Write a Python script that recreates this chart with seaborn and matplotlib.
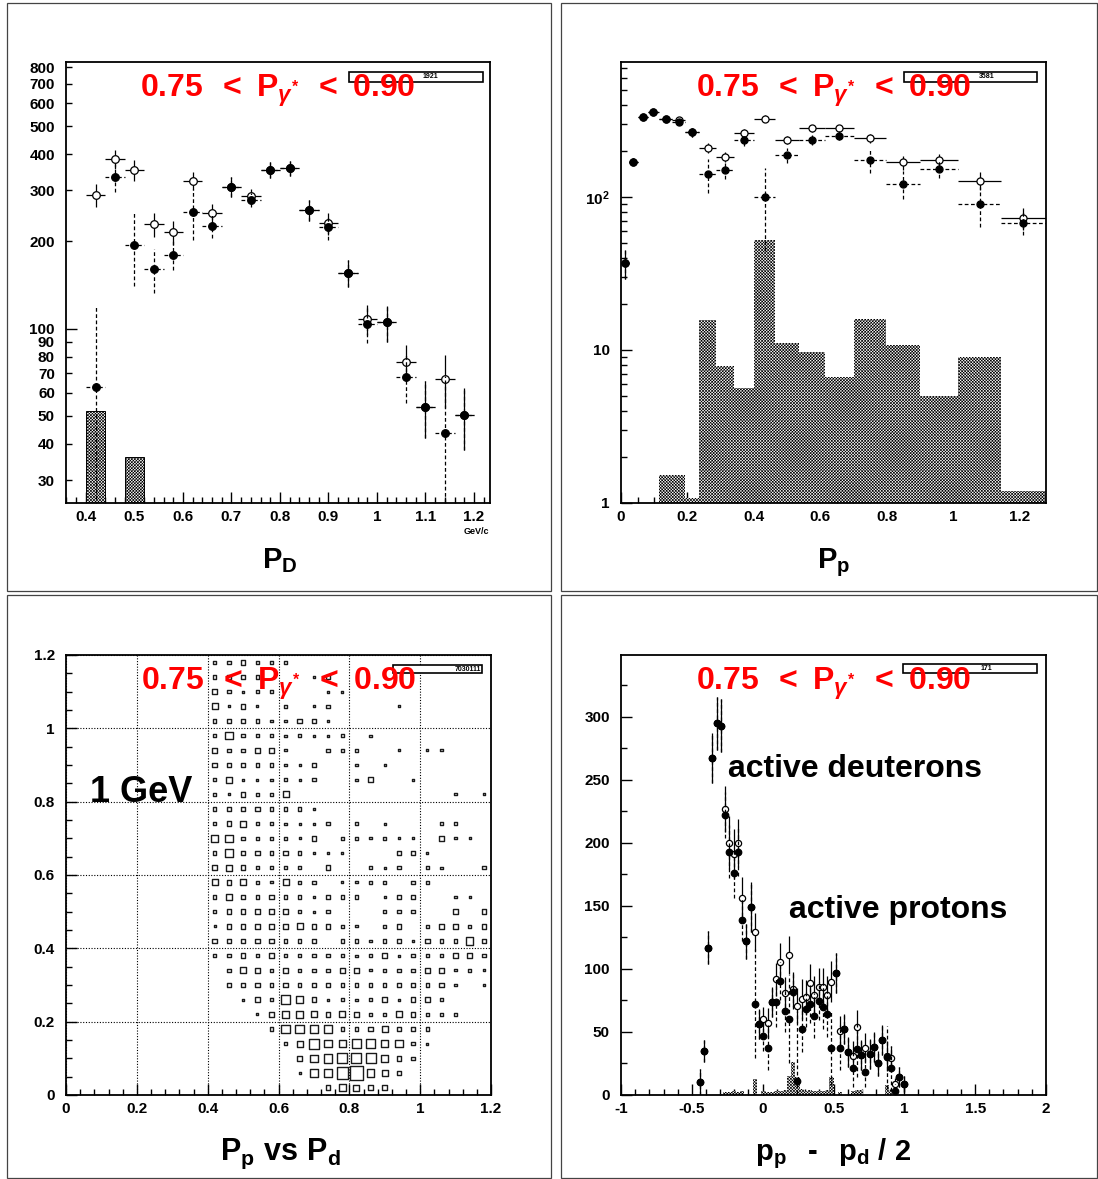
import numpy as np
import pandas as pd
import matplotlib
matplotlib.use("Agg")
import matplotlib.pyplot as plt
import seaborn as sns
from matplotlib.patches import Rectangle

# ---------------- P_D spectrum (top left) ----------------
pd_centers = [0.42, 0.46, 0.50, 0.54, 0.58, 0.62, 0.66, 0.70, 0.74, 0.78,
              0.82, 0.86, 0.90, 0.94, 0.98, 1.02, 1.06, 1.10, 1.14, 1.18]
pd_open = [290, 384, 353, 229, 215, 324, 250, 309, 288, 354,
           358, 256, 231, 156, 108, 105, 76.8, 53.8, 67.1, 50.2]
pd_open_err = [26, 29, 30, 21, 20, 23, 19, 24, 16, 22,
               22, 21, 20, 17, 13, 15, 11, 12, 14, 12]
pd_filled = [63, 334, 195, 161, 180, 253, 227, 309, 279, 354,
             358, 256, 225, 156, 104, 105, 68.3, 53.8, 43.6, 50.2]
pd_filled_err = [58, 37, 55, 28, 20, 50, 22, 24, 16, 22,
                 22, 21, 22, 17, 15, 15, 13, 12, 25, 12]
pd_background = [52, 0, 36, 0, 0, 0, 0, 0, 0, 0,
                 0, 0, 0, 0, 0, 0, 0, 0, 0, 0]

# ---------------- P_p spectrum (top right), variable bins ----------------
pp_edges = [0, 0.024, 0.05, 0.08, 0.114, 0.155, 0.193, 0.236, 0.286, 0.34,
            0.40, 0.465, 0.537, 0.614, 0.702, 0.797, 0.902, 1.016, 1.144, 1.28]
pp_filled = [37.2, 170, 335, 361, 324, 311, 265, 141, 149, 236,
             99.5, 188, 237, 252, 175, 122, 152, 89.6, 68]
pp_filled_err = [8, 9, 10, 10, 10, 10, 17, 35, 17, 20,
                 55, 22, 20, 18, 32, 25, 19, 26, 12]
pp_open = [37.2, 170, 335, 361, 324, 318, 265, 209, 183, 262,
           324, 236, 281, 281, 242, 168, 175, 128, 73]
pp_open_err = [8, 9, 10, 10, 10, 10, 17, 16, 14, 14,
               17, 14, 15, 15, 16, 18, 16, 17, 12]
pp_background = [0, 0, 0, 0, 1.52, 1.52, 1.08, 15.7, 7.86, 5.67,
                 52.4, 11.1, 9.77, 6.63, 15.9, 10.8, 5.03, 9.05, 1.2]

# ---------------- P_p vs P_d box plot (bottom left) ----------------
box_pd = pd_centers
box_pp = [1.18, 1.14, 1.10, 1.06, 1.02, 0.98, 0.94, 0.90, 0.86, 0.82,
          0.78, 0.74, 0.70, 0.66, 0.62, 0.58, 0.54, 0.50, 0.46, 0.42,
          0.38, 0.34, 0.30, 0.26, 0.22, 0.18, 0.14, 0.10, 0.06, 0.02]
box_counts = [
    [2, 2, 3, 2, 2, 2, 0, 0, 0, 0, 0, 0, 0, 0, 0, 0, 0, 0, 0, 0],
    [2, 2, 3, 2, 0, 0, 0, 1, 2, 0, 0, 0, 0, 0, 0, 0, 0, 0, 0, 0],
    [3, 2, 1, 2, 2, 0, 0, 0, 1, 1, 0, 0, 0, 0, 0, 0, 0, 0, 0, 0],
    [4, 1, 3, 1, 0, 2, 0, 1, 2, 0, 0, 0, 0, 1, 0, 0, 0, 0, 0, 0],
    [2, 3, 2, 2, 1, 1, 3, 2, 1, 0, 0, 0, 0, 0, 0, 0, 0, 0, 0, 0],
    [2, 5, 2, 2, 2, 1, 2, 1, 1, 2, 0, 1, 0, 0, 0, 0, 0, 0, 0, 0],
    [3, 2, 2, 3, 3, 1, 0, 0, 2, 2, 2, 0, 0, 1, 0, 1, 1, 0, 0, 0],
    [3, 2, 2, 2, 2, 1, 1, 2, 0, 0, 1, 0, 1, 0, 0, 0, 0, 0, 0, 0],
    [2, 4, 1, 1, 1, 2, 1, 2, 0, 0, 1, 3, 0, 0, 1, 0, 0, 0, 0, 0],
    [2, 1, 3, 2, 2, 4, 0, 0, 0, 0, 0, 0, 0, 0, 0, 0, 0, 1, 0, 1],
    [2, 2, 3, 3, 2, 2, 2, 1, 0, 0, 0, 0, 0, 0, 0, 0, 0, 0, 0, 0],
    [2, 3, 4, 2, 2, 1, 1, 1, 2, 0, 2, 0, 1, 0, 0, 0, 2, 2, 0, 0],
    [5, 5, 2, 2, 2, 2, 1, 3, 0, 2, 2, 1, 2, 1, 1, 0, 3, 1, 1, 0],
    [2, 5, 3, 3, 2, 3, 2, 1, 1, 1, 0, 0, 0, 2, 2, 1, 0, 0, 0, 0],
    [3, 4, 3, 2, 2, 2, 2, 0, 3, 0, 0, 2, 1, 2, 0, 2, 1, 0, 0, 2],
    [4, 3, 4, 2, 1, 4, 2, 2, 0, 1, 1, 2, 2, 0, 2, 2, 0, 0, 0, 0],
    [2, 4, 3, 2, 3, 2, 2, 1, 2, 2, 2, 0, 1, 2, 2, 0, 0, 1, 1, 0],
    [2, 3, 3, 3, 3, 3, 2, 1, 2, 0, 0, 0, 2, 2, 2, 0, 0, 3, 0, 3],
    [1, 3, 3, 3, 3, 3, 4, 3, 3, 2, 1, 0, 2, 3, 0, 2, 3, 3, 2, 3],
    [3, 3, 3, 3, 3, 2, 2, 2, 0, 2, 2, 1, 2, 2, 1, 3, 2, 2, 5, 2],
    [2, 2, 3, 2, 3, 2, 2, 2, 2, 2, 1, 2, 3, 1, 2, 2, 2, 3, 3, 2],
    [0, 2, 4, 3, 2, 3, 2, 2, 2, 3, 3, 1, 2, 2, 2, 3, 3, 1, 2, 1],
    [0, 2, 3, 3, 2, 3, 2, 2, 2, 2, 2, 2, 2, 2, 2, 2, 3, 1, 0, 1],
    [0, 0, 1, 3, 2, 6, 5, 3, 1, 2, 1, 2, 3, 1, 3, 3, 2, 0, 0, 0],
    [0, 0, 0, 1, 3, 5, 5, 4, 3, 4, 3, 2, 2, 4, 3, 2, 2, 2, 0, 0],
    [0, 0, 0, 0, 2, 6, 6, 6, 5, 2, 2, 3, 4, 3, 3, 2, 0, 0, 0, 0],
    [0, 0, 0, 0, 0, 2, 4, 7, 5, 5, 6, 6, 5, 5, 2, 1, 0, 0, 0, 0],
    [0, 0, 0, 0, 0, 0, 3, 5, 6, 7, 7, 7, 5, 3, 2, 0, 0, 0, 0, 0],
    [0, 0, 0, 0, 0, 0, 1, 5, 6, 8, 10, 5, 4, 3, 0, 0, 0, 0, 0, 0],
    [0, 0, 0, 0, 0, 0, 0, 0, 3, 5, 4, 3, 3, 0, 0, 0, 0, 0, 0, 0],
]

# ---------------- p_p - p_d/2 (bottom right) ----------------
br_x = [-0.445, -0.415, -0.385, -0.355, -0.325, -0.295, -0.265, -0.235, -0.205, -0.175,
        -0.145, -0.115, -0.085, -0.055, -0.025, 0.005, 0.035, 0.065, 0.095, 0.125,
        0.155, 0.185, 0.215, 0.245, 0.275, 0.305, 0.335, 0.365, 0.395, 0.425,
        0.455, 0.485, 0.515, 0.545, 0.575, 0.605, 0.635, 0.665, 0.695, 0.725,
        0.755, 0.785, 0.815, 0.845, 0.875, 0.905, 0.935, 0.965, 0.995]
br_filled = [10.3, 34.9, 116.7, 267.5, 295, 293, 222, 193, 176, 193,
             139, 122, 149, 72.5, 56.3, 47, 37.6, 73.8, 73.8, 90.7,
             66.9, 60.3, 82, 11.4, 52.4, 68, 72.2, 63, 74.6, 70.1,
             64.3, 37.6, 96.6, 37.6, 52.4, 33.9, 21.7, 36.5, 31.5, 18.5,
             32.5, 38.1, 25.1, 43.9, 30, 21.2, 3.4, 14.5, 8.7]
br_filled_err = [10, 9, 13, 20, 21, 21, 18, 21, 20, 19,
                 17, 14, 20, 43, 12, 12, 18, 12, 20, 15,
                 17, 35, 14, 55, 18, 14, 15, 18, 15, 18,
                 18, 30, 16, 18, 12, 12, 15, 22, 12, 12,
                 12, 12, 10, 12, 25, 18, 5, 8, 6]
br_open = [10.3, 34.9, 116.7, 267.5, 295, 293, 226.7, 200, 191, 200,
           156, 122, 149, 129, 56.3, 60, 56.9, 73.8, 91.8, 105.8,
           80.7, 111, 83.9, 70.9, 75.9, 77.5, 88.6, 79.4, 86, 86,
           79.4, 90, 96.6, 51, 52.4, 33.9, 31, 54.2, 31.5, 37,
           32.5, 38.1, 25.1, 43.9, 31, 29.1, 8.7, 14.5, 8.7]
br_open_err = [10, 9, 13, 20, 21, 21, 18, 21, 20, 19,
               17, 14, 20, 15, 12, 10, 12, 12, 13, 15,
               13, 15, 14, 14, 16, 14, 15, 15, 15, 15,
               15, 16, 16, 12, 12, 12, 12, 13, 12, 12,
               12, 12, 10, 12, 12, 10, 5, 8, 6]
br_background = [0, 0, 0, 0, 0, 1, 2, 2, 3, 2,
                 3, 0, 0, 13, 0, 3, 2, 2, 3, 3,
                 4, 15, 26, 14, 5, 3, 4, 3, 3, 3,
                 4, 14, 0, 2, 0, 0, 3, 4, 4, 0,
                 0, 0, 0, 0, 8, 3, 0, 0, 0]

title_text = r'$\mathbf{0.75}\ \,<\ \mathbf{P}_{\gamma^{*}}\ \,<\ \mathbf{0.90}$'

# ---------------- style ----------------
sns.set_style("ticks")
plt.rcParams.update({
    "font.family": ["Liberation Sans", "DejaVu Sans"],
    "font.weight": "bold",
    "mathtext.fontset": "custom",
    "mathtext.rm": "Liberation Sans",
    "mathtext.bf": "Liberation Sans:bold",
    "mathtext.it": "Liberation Sans:italic",
    "mathtext.sf": "Liberation Sans",
    "hatch.color": "black",
    "hatch.linewidth": 0.45,
    "axes.linewidth": 1.3,
    "text.color": "black",
    "axes.labelcolor": "black",
    "xtick.color": "black",
    "ytick.color": "black",
    "axes.edgecolor": "black",
})

W, H = 1098, 1179
fig = plt.figure(figsize=(W / 100, H / 100), dpi=100)
fig.patch.set_facecolor("white")


def px_box(x0, y0, x1, y1):
    return [x0 / W, 1 - y1 / H, (x1 - x0) / W, (y1 - y0) / H]


axTL = fig.add_axes(px_box(66, 62, 490, 503))
axTR = fig.add_axes(px_box(621, 62, 1046, 503))
axBL = fig.add_axes(px_box(66, 655, 491, 1095))
axBR = fig.add_axes(px_box(621, 655, 1046, 1095))

# pad frames
for (x0, y0, x1, y1) in [(7, 3, 551, 591), (561, 3, 1097, 591),
                         (7, 595, 551, 1178), (561, 595, 1097, 1178)]:
    fig.add_artist(Rectangle((x0 / W, 1 - y1 / H), (x1 - x0) / W, (y1 - y0) / H,
                             transform=fig.transFigure, fill=False,
                             ec="#444444", lw=0.9))

HATCH = "x" * 11


def hatched_hist(ax, centers, weights, edges, outline):
    n_before = len(ax.patches)
    sns.histplot(x=centers, weights=weights, bins=edges, ax=ax, stat="count",
                 element="bars", fill=True, color="white", edgecolor="black",
                 linewidth=0.7, alpha=1, zorder=1)
    for p in ax.patches[n_before:]:
        p.set_hatch(HATCH)
        p.set_facecolor("white")
        p.set_edgecolor("black")
        p.set_linewidth(0.7 if outline else 0.0)


def error_bars(ax, x, y, yerr, xerr, dashed, z):
    eb = ax.errorbar(x, y, yerr=yerr, xerr=xerr, fmt="none", ecolor="black",
                     elinewidth=0.9, capsize=0, zorder=z)
    if dashed:
        for lc in eb[2]:
            lc.set_linestyle((0, (3, 2)))


def markers(ax, x, y, filled, s, z):
    sns.scatterplot(x=x, y=y, ax=ax, marker="o", s=s,
                    color="black" if filled else "white",
                    edgecolor="black", linewidth=0.9, zorder=z, legend=False)


def style_axes(ax):
    ax.set_xlabel("")
    ax.set_ylabel("")
    for sp in ax.spines.values():
        sp.set_visible(True)
        sp.set_linewidth(1.3)
        sp.set_color("black")
    ax.tick_params(which="both", direction="in", top=False, right=False,
                   labelsize=11, width=1.0, color="black", labelcolor="black")
    ax.tick_params(which="major", length=8)
    ax.tick_params(which="minor", length=4)
    ax.tick_params(axis="x", which="both", pad=5)
    ax.tick_params(axis="y", which="both", pad=8)


def add_title(ax):
    ax.text(0.5, 0.921, title_text, transform=ax.transAxes, ha="center",
            va="baseline", color="red", fontsize=23, zorder=10)


def stat_box(ax, x0, x1, y0, y1, label, tx):
    ax.add_patch(Rectangle((x0, y0), x1 - x0, y1 - y0, transform=ax.transAxes,
                           fill=True, fc="white", ec="black", lw=1.2, zorder=8))
    ax.text(tx, (y0 + y1) / 2, label, transform=ax.transAxes, fontsize=5,
            ha="center", va="center", zorder=9)


# ---------------- top left ----------------
ax = axTL
pd_edges = [c - 0.02 for c in pd_centers] + [pd_centers[-1] + 0.02]
hatched_hist(ax, pd_centers, pd_background, pd_edges, True)
ax.set_yscale("log", nonpositive="clip")
error_bars(ax, pd_centers, pd_open, pd_open_err, 0.02, False, 2)
markers(ax, pd_centers, pd_open, False, 30, 3)
error_bars(ax, pd_centers, pd_filled, pd_filled_err, 0.02, True, 4)
markers(ax, pd_centers, pd_filled, True, 30, 5)
ax.set_xlim(0.359, 1.233)
ax.set_ylim(25, 833)
style_axes(ax)
ax.set_xticks([0.4, 0.5, 0.6, 0.7, 0.8, 0.9, 1.0, 1.1, 1.2],
              labels=["0.4", "0.5", "0.6", "0.7", "0.8", "0.9", "1", "1.1", "1.2"])
ax.set_xticks(np.arange(0.36, 1.233, 0.02), minor=True)
ax.set_yticks([100], labels=["100"])
yl = [30, 40, 50, 60, 70, 80, 90, 200, 300, 400, 500, 600, 700, 800]
ax.set_yticks(yl, labels=[str(v) for v in yl], minor=True)
ax.tick_params(axis="y", which="minor", length=4, labelsize=11, pad=8)
add_title(ax)
stat_box(ax, 0.667, 0.983, 0.955, 0.977, "1921", 0.86)

# ---------------- top right ----------------
ax = axTR
pp_centers = [(a + b) / 2 for a, b in zip(pp_edges[:-1], pp_edges[1:])]
pp_half = [(b - a) / 2 for a, b in zip(pp_edges[:-1], pp_edges[1:])]
hatched_hist(ax, pp_centers, pp_background, pp_edges, False)
ax.set_yscale("log", nonpositive="clip")
error_bars(ax, pp_centers, pp_open, pp_open_err, pp_half, False, 2)
markers(ax, pp_centers, pp_open, False, 26, 3)
error_bars(ax, pp_centers, pp_filled, pp_filled_err, pp_half, True, 4)
markers(ax, pp_centers, pp_filled, True, 26, 5)
ax.set_xlim(0, 1.28)
ax.set_ylim(1, 762)
style_axes(ax)
ax.set_xticks([0, 0.2, 0.4, 0.6, 0.8, 1.0, 1.2],
              labels=["0", "0.2", "0.4", "0.6", "0.8", "1", "1.2"])
ax.set_xticks(np.arange(0.05, 1.28, 0.05), minor=True)
ax.set_yticks([1, 10, 100], labels=["1", "10", r"$\mathbf{10^{2}}$"])
ax.set_yticks([m * d for d in (1, 10, 100) for m in range(2, 10) if m * d < 762],
              minor=True)
ax.yaxis.set_minor_formatter(matplotlib.ticker.NullFormatter())
add_title(ax)
stat_box(ax, 0.666, 0.979, 0.955, 0.977, "3581", 0.86)

# ---------------- bottom left ----------------
ax = axBL
cells = []
for j, ppv in enumerate(box_pp):
    for i, pdv in enumerate(box_pd):
        n = box_counts[j][i]
        if n > 0:
            cells.append((pdv, ppv, n))
box_df = pd.DataFrame(cells, columns=["P_d", "P_p", "n"])
size_map = {v: ((2.2 + 11.6 * (v - 1) / 9.0) * 0.72) ** 2
            for v in sorted(box_df["n"].unique())}
sns.scatterplot(data=box_df, x="P_d", y="P_p", size="n", sizes=size_map,
                marker="s", color="white", edgecolor="#1a1a1a", linewidth=1.0,
                legend=False, ax=ax, zorder=3)
ax.collections[-1].set_facecolor("none")
ax.set_xlim(0, 1.2)
ax.set_ylim(0, 1.2)
style_axes(ax)
ticks = [0, 0.2, 0.4, 0.6, 0.8, 1.0, 1.2]
tlabels = ["0", "0.2", "0.4", "0.6", "0.8", "1", "1.2"]
ax.set_xticks(ticks, labels=tlabels)
ax.set_yticks(ticks, labels=tlabels)
ax.set_xticks(np.arange(0.04, 1.2, 0.04), minor=True)
ax.set_yticks(np.arange(0.05, 1.2, 0.05), minor=True)
ax.grid(True, which="major", linestyle=(0, (1, 1.5)), color="black", linewidth=0.8)
ax.set_axisbelow(True)
add_title(ax)
stat_box(ax, 0.769, 0.979, 0.959, 0.977, "7030111", 0.945)
ax.text(0.056, 0.666, "1 GeV", transform=ax.transAxes, fontsize=26,
        ha="left", va="baseline", color="black", zorder=6)

# ---------------- bottom right ----------------
ax = axBR
br_edges = [c - 0.015 for c in br_x] + [br_x[-1] + 0.015]
hatched_hist(ax, br_x, br_background, br_edges, False)
error_bars(ax, br_x, br_open, br_open_err, None, False, 2)
markers(ax, br_x, br_open, False, 20, 3)
error_bars(ax, br_x, br_filled, br_filled_err, None, True, 4)
markers(ax, br_x, br_filled, True, 22, 5)
ax.set_xlim(-1, 2)
ax.set_ylim(0, 349)
style_axes(ax)
ax.set_xticks([-1, -0.5, 0, 0.5, 1, 1.5, 2],
              labels=["-1", "-0.5", "0", "0.5", "1", "1.5", "2"])
ax.set_xticks(np.arange(-0.9, 2, 0.1), minor=True)
ax.set_yticks([0, 50, 100, 150, 200, 250, 300],
              labels=["0", "50", "100", "150", "200", "250", "300"])
ax.set_yticks([25, 75, 125, 175, 225, 275, 325], minor=True)
add_title(ax)
stat_box(ax, 0.664, 0.979, 0.959, 0.980, "171", 0.86)
ax.text(-0.247, 252, "active deuterons", fontsize=23, ha="left",
        va="baseline", color="black", zorder=6)
ax.text(0.183, 140.5, "active protons", fontsize=23, ha="left",
        va="baseline", color="black", zorder=6)

# ---------------- axis titles ----------------
fig.text(280 / W, 1 - 568 / H, r"$\mathbf{P}_{\mathbf{D}}$", fontsize=21,
         ha="center", va="baseline")
fig.text(834 / W, 1 - 568 / H, r"$\mathbf{P}_{\mathbf{p}}$", fontsize=21,
         ha="center", va="baseline")
fig.text(280 / W, 1 - 1160 / H,
         r"$\mathbf{P}_{\mathbf{p}}\mathbf{\ vs\ P}_{\mathbf{d}}$",
         fontsize=22, ha="center", va="baseline")
fig.text(755 / W, 1 - 1160 / H, r"$\mathbf{p}_{\mathbf{p}}$",
         fontsize=21, ha="left", va="baseline")
fig.text(813 / W, 1 - 1160 / H, "-", fontsize=21, ha="center", va="baseline")
fig.text(838 / W, 1 - 1160 / H, r"$\mathbf{p}_{\mathbf{d}}\mathbf{\ /\ 2}$",
         fontsize=21, ha="left", va="baseline")
fig.text(476 / W, 1 - 531 / H, "GeV/c", fontsize=6.5, ha="center", va="center")

fig.savefig("out.png", dpi=100, facecolor="white")
